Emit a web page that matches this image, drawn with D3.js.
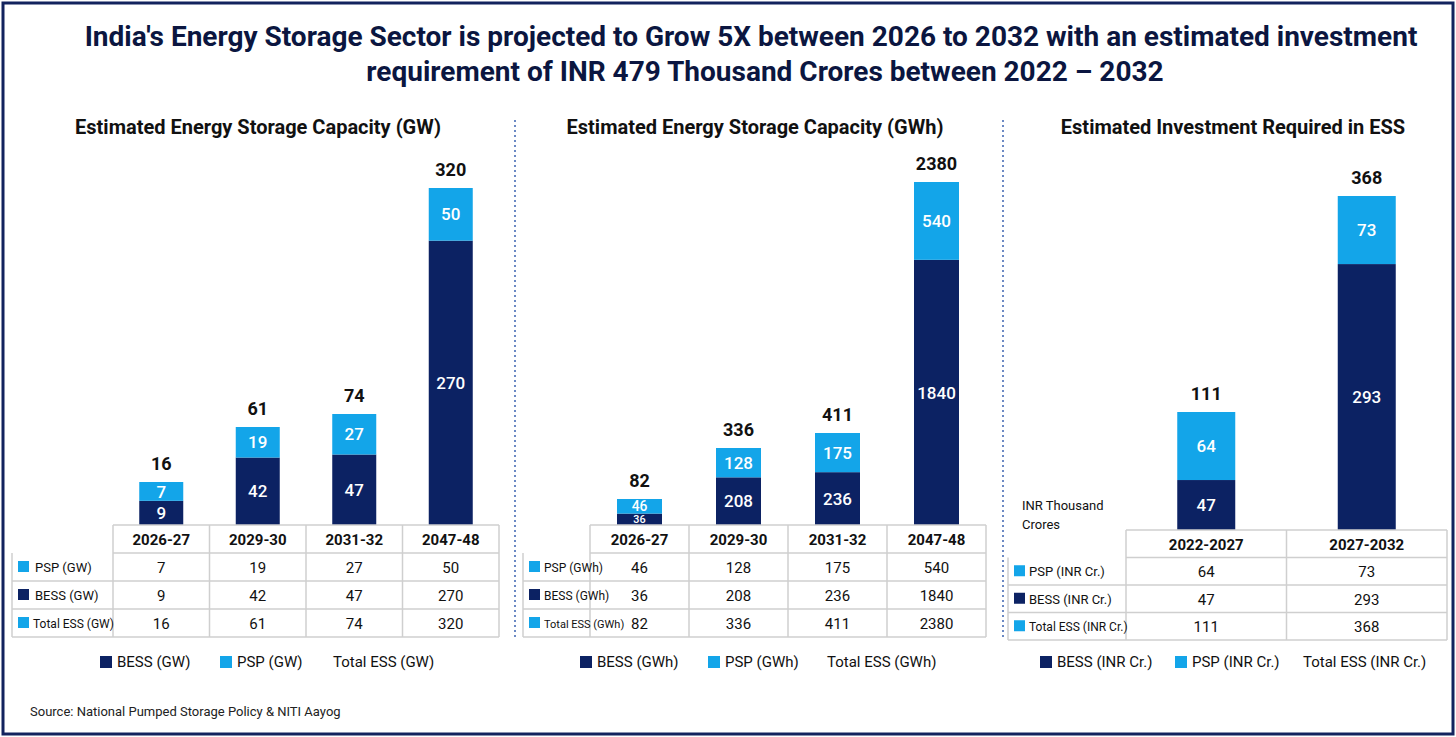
<!DOCTYPE html>
<html><head><meta charset="utf-8">
<script src="https://cdn.jsdelivr.net/npm/d3@7"></script>
<style>body{margin:0;background:#fff}svg{display:block;font-family:Roboto,"Noto Sans",sans-serif}</style>
</head><body><svg id="c" width="1456" height="737"></svg>
<script>
// ---- data ----
const gwCategories = ["2026-27","2029-30","2031-32","2047-48"];
const gwPSP = [7,19,27,50];
const gwBESS = [9,42,47,270];
const gwTotal = [16,61,74,320];

const gwhCategories = ["2026-27","2029-30","2031-32","2047-48"];
const gwhPSP = [46,128,175,540];
const gwhBESS = [36,208,236,1840];
const gwhTotal = [82,336,411,2380];

const invCategories = ["2022-2027","2027-2032"];
const invPSP = [64,73];
const invBESS = [47,293];
const invTotal = [111,368];

const NAVY="#0c2263", LIGHT="#13a5e9";
const svg=d3.select("#c");
svg.append("rect").attr("x",3).attr("y",3).attr("width",1450).attr("height",731).attr("fill","#fff").attr("stroke","#13235e").attr("stroke-width",3);
svg.append("text").attr("x",751).attr("y",46).attr("text-anchor","middle").attr("font-size",28).attr("font-weight",700).attr("fill","#0b1640")
 .text("India's Energy Storage Sector is projected to Grow 5X between 2026 to 2032 with an estimated investment");
svg.append("text").attr("x",765).attr("y",81).attr("text-anchor","middle").attr("font-size",28).attr("font-weight",700).attr("fill","#0b1640")
 .text("requirement of INR 479 Thousand Crores between 2022 – 2032");
svg.append("text").attr("x",30).attr("y",716).attr("font-size",13).attr("fill","#222").text("Source: National Pumped Storage Policy & NITI Aayog");
[515,1003].forEach(x=>svg.append("line").attr("x1",x).attr("x2",x).attr("y1",120).attr("y2",640).attr("stroke","#3b63b0").attr("stroke-width",1.5).attr("stroke-dasharray","2,3"));

function panel(o){
  const g=svg.append("g");
  g.append("text").attr("x",o.titleX).attr("y",134).attr("text-anchor","middle").attr("font-size",20).attr("font-weight",700).attr("fill","#111").text(o.title);
  const x=d3.scaleBand().domain(o.cats).range([o.colX0,o.colX1]);
  const h=d3.scaleLinear().domain(o.hDomain).range(o.hRange);
  o.cats.forEach((c,i)=>{
    const cx=x(c)+x.bandwidth()/2, th=h(o.total[i]), bh=th*o.bess[i]/o.total[i];
    const top=o.base-th, mid=o.base-bh;
    g.append("rect").attr("x",cx-o.bw/2).attr("width",o.bw).attr("y",mid).attr("height",bh).attr("fill",NAVY);
    g.append("rect").attr("x",cx-o.bw/2).attr("width",o.bw).attr("y",top).attr("height",mid-top).attr("fill",LIGHT);
    const f1=Math.min(17,bh*0.95), f2=Math.min(17,(mid-top)*0.95);
    g.append("text").attr("x",cx).attr("y",(mid+o.base)/2+f1*0.36).attr("text-anchor","middle").attr("fill","#fff").attr("font-size",f1).attr("font-weight",500).text(o.bess[i]);
    g.append("text").attr("x",cx).attr("y",(top+mid)/2+f2*0.36).attr("text-anchor","middle").attr("fill","#fff").attr("font-size",f2).attr("font-weight",500).text(o.psp[i]);
    g.append("text").attr("x",cx).attr("y",top-12).attr("text-anchor","middle").attr("fill","#111").attr("font-size",18).attr("font-weight",700).text(o.total[i]);
  });
  // table
  const rh=o.rowH, y0=o.base;
  const line=(x1,y1,x2,y2)=>g.append("line").attr("x1",x1).attr("y1",y1).attr("x2",x2).attr("y2",y2).attr("stroke","#cfcfcf").attr("stroke-width",1.5);
  line(o.colX0,y0,o.colX1,y0);
  for(let r=1;r<=4;r++) line(r==1?o.colX0:o.tabX0,y0+rh*r,o.colX1,y0+rh*r);
  line(o.tabX0,y0+rh,o.tabX0,y0+rh*4);
  o.cats.forEach(c=>line(x(c),y0,x(c),y0+rh*4));
  line(o.colX1,y0,o.colX1,y0+rh*4);
  o.cats.forEach(c=>g.append("text").attr("x",x(c)+x.bandwidth()/2).attr("y",y0+rh/2+6).attr("text-anchor","middle").attr("font-size",15).attr("font-weight",700).attr("fill","#111").text(c));
  const rows=[[o.rowLabels[0],LIGHT,o.psp],[o.rowLabels[1],NAVY,o.bess],[o.rowLabels[2],LIGHT,o.total]];
  rows.forEach((r,j)=>{
    const yy=y0+rh*(j+1);
    g.append("rect").attr("x",o.tabX0+6).attr("y",yy+rh/2-6).attr("width",11).attr("height",11).attr("fill",r[1]);
    g.append("text").attr("x",o.tabX0+21+(j<2?o.labInd:0)).attr("y",yy+rh/2+5).attr("font-size",j==2?o.labFs-1:o.labFs).attr("fill","#111").text(r[0]);
    o.cats.forEach((c,i)=>g.append("text").attr("x",x(c)+x.bandwidth()/2).attr("y",yy+rh/2+6).attr("text-anchor","middle").attr("font-size",15).attr("fill","#111").text(r[2][i]));
  });
  // legend
  const L=o.legend;
  g.append("rect").attr("x",L[0]).attr("y",656).attr("width",12).attr("height",12).attr("fill",NAVY);
  g.append("text").attr("x",L[0]+17).attr("y",667).attr("font-size",15).attr("fill","#111").text(o.legLabels[0]);
  g.append("rect").attr("x",L[1]).attr("y",656).attr("width",12).attr("height",12).attr("fill",LIGHT);
  g.append("text").attr("x",L[1]+17).attr("y",667).attr("font-size",15).attr("fill","#111").text(o.legLabels[1]);
  g.append("text").attr("x",L[2]).attr("y",667).attr("font-size",15).attr("fill","#111").text(o.legLabels[2]);
  return g;
}
panel({title:"Estimated Energy Storage Capacity (GW)",titleX:258,cats:gwCategories,psp:gwPSP,bess:gwBESS,total:gwTotal,
  colX0:113,colX1:499,tabX0:12,base:525,rowH:28,bw:44,hDomain:[0,16,61,74,320],hRange:[0,43,98,111,337],labInd:2,labFs:13,
  rowLabels:["PSP (GW)","BESS (GW)","Total ESS (GW)"],legend:[100,220,333],legLabels:["BESS (GW)","PSP (GW)","Total ESS (GW)"]});
panel({title:"Estimated Energy Storage Capacity (GWh)",titleX:755,cats:gwhCategories,psp:gwhPSP,bess:gwhBESS,total:gwhTotal,
  colX0:590,colX1:986,tabX0:523,base:525,rowH:28,bw:45,hDomain:[0,82,336,411,2380],hRange:[0,26,77,92,343],labInd:0,labFs:12,
  rowLabels:["PSP (GWh)","BESS (GWh)","Total ESS (GWh)"],legend:[580,708,827],legLabels:["BESS (GWh)","PSP (GWh)","Total ESS (GWh)"]});
panel({title:"Estimated Investment Required in ESS",titleX:1233,cats:invCategories,psp:invPSP,bess:invBESS,total:invTotal,
  colX0:1126,colX1:1447,tabX0:1008,base:530,rowH:27.5,bw:58,hDomain:[0,111,368],hRange:[0,118,334],labInd:0,labFs:13,
  rowLabels:["PSP (INR Cr.)","BESS (INR Cr.)","Total ESS (INR Cr.)"],legend:[1040,1175,1303],legLabels:["BESS (INR Cr.)","PSP (INR Cr.)","Total ESS (INR Cr.)"]});
svg.append("text").attr("x",1022).attr("y",510).attr("font-size",13).attr("fill","#111").text("INR Thousand");
svg.append("text").attr("x",1022).attr("y",529).attr("font-size",13).attr("fill","#111").text("Crores");
</script></body></html>
